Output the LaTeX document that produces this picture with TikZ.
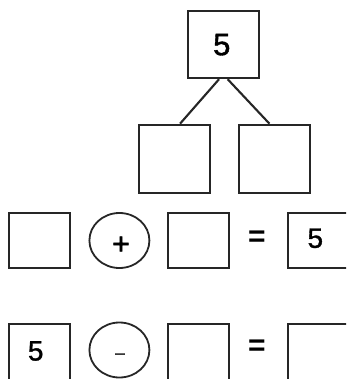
\documentclass[tikz,border=0pt]{standalone}
\usepackage{fontspec}
\setmainfont{Liberation Sans}
\newfontfamily\digitfont[FakeBold=1.2]{Liberation Sans}
\newfontfamily\opfont[FakeBold=2]{Liberation Sans}
\usetikzlibrary{shapes.geometric}
\begin{document}
\begin{tikzpicture}[x=1pt,y=-1pt,
  box/.style={draw=black!85,line width=2.1pt,rectangle,inner sep=0pt,minimum width=#1},
  opcirc/.style={draw=black!85,line width=1.8pt,ellipse,inner sep=0pt,minimum width=60pt,minimum height=55pt},
  digit/.style={inner sep=0pt,font=\digitfont\fontsize{28}{30}\selectfont},
  sym/.style={inner sep=0pt,font=\bfseries\fontsize{30}{32}\selectfont},
  link/.style={draw=black!85,line width=2.1pt}]
\useasboundingbox (0,0) rectangle (346,379);
\clip (0,0) rectangle (346,379);
\fill[white] (0,0) rectangle (346,379);
% bond
\node[box=71pt,minimum height=67pt] (top) at (223.5,44.7) {};
\node[digit,font=\digitfont\fontsize{31}{33}\selectfont] (topd) at (221.8,44.7) {5};
\node[box=71pt,minimum height=68pt] (bl) at (174.6,158.7) {};
\node[box=71pt,minimum height=68pt] (br) at (274.4,158.7) {};
\draw[link] ([xshift=-4.5pt]top.south) -- ([xshift=5.5pt]bl.north);
\draw[link] ([xshift=4.2pt]top.south) -- ([xshift=-5pt]br.north);
% row 1
\node[box=61pt,minimum height=55.6pt] (a1) at (39.3,240.5) {};
\node[opcirc] (c1) at (119.4,240.5) {};
\node[inner sep=0pt,font=\opfont\fontsize{30}{32}\selectfont] (p1) at (121,245.3) {+};
\node[box=61pt,minimum height=55.6pt] (b1) at (198.5,240.5) {};
\node[sym] (e1) at (257,239) {=};
\node[box=61pt,minimum height=55.6pt] (r1) at (318.3,240.5) {};
\node[digit] (r1d) at (315.3,238.3) {5};
% row 2
\node[box=61pt,minimum height=55.6pt] (a2) at (39.3,352.1) {};
\node[digit] (a2d) at (35.7,351) {5};
\node[opcirc] (c2) at (119.4,350) {};
\node[inner sep=0pt,font=\opfont\fontsize{17}{19}\selectfont] (m2) at (120,356) {–};
\node[box=61pt,minimum height=55.6pt] (b2) at (198.5,352.1) {};
\node[sym] (e2) at (257,347.5) {=};
\node[box=61pt,minimum height=55.6pt] (r2) at (318.3,352.1) {};
\end{tikzpicture}
\end{document}
